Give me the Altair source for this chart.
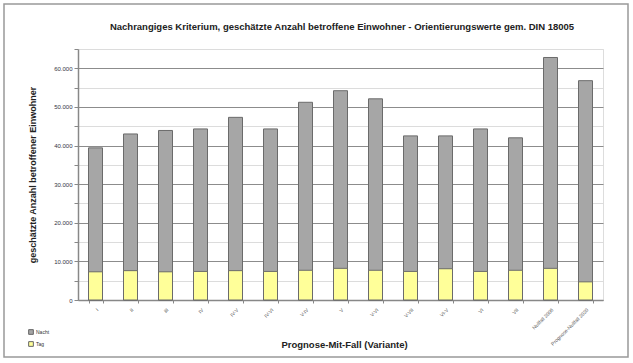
import altair as alt
import pandas as pd

varianten = ["I", "II", "III", "IV", "IV-V", "IV-VI", "V-IV", "V", "V-VI",
             "V-VII", "VI-V", "VI", "VII", "Nullfall 2006", "Prognose-Nullfall 2020"]
nacht = [39400, 43000, 43900, 44300, 47300, 44300, 51200, 54200, 52100,
         42500, 42500, 44300, 42000, 62800, 56800]
tag = [7300, 7600, 7300, 7400, 7600, 7400, 7700, 8200, 7700,
       7400, 8100, 7400, 7700, 8200, 4700]
serien = ["Nacht", "Tag"]
farben = ["#a6a6a6", "#ffff99"]
y_ticks = list(range(0, 65001, 5000))
titel = "Nachrangiges Kriterium, geschätzte Anzahl betroffene Einwohner - Orientierungswerte gem. DIN 18005"

rows = []
for v, n in zip(varianten, nacht):
    rows.append({"Variante": v, "Serie": "Nacht", "Wert": n})
for v, t in zip(varianten, tag):
    rows.append({"Variante": v, "Serie": "Tag", "Wert": t})
df = pd.DataFrame(rows)

FONT = "Liberation Sans"

bars = alt.Chart(df).mark_bar(stroke="#6b6b6b", strokeWidth=1).encode(
    x=alt.X("Variante:N", sort=varianten,
            scale=alt.Scale(paddingInner=0.6, paddingOuter=0.3),
            axis=alt.Axis(title="Prognose-Mit-Fall (Variante)", labelAngle=-45,
                          labelFontSize=5, labelColor="#555", labelFont=FONT,
                          labelPadding=4,
                          tickBand="extent", tickColor="#888", tickSize=3,
                          domainColor="#888", domainWidth=1.5,
                          titleFont=FONT, titleFontSize=9.5, titleFontWeight="bold",
                          titleColor="#222", titleY=39, titleX=266)),
    y=alt.Y("Wert:Q", stack=None,
            scale=alt.Scale(domain=[0, 65000], nice=False),
            axis=alt.Axis(title="geschätzte  Anzahl  betroffener  Einwohner",
                          values=y_ticks,
                          labelExpr="datum.value % 10000 === 0 ? replace(format(datum.value, ','), ',', '.') : ''",
                          labelFontSize=6, labelColor="#334", labelFont=FONT,
                          labelPadding=2,
                          tickColor="#888", tickSize=4,
                          domainColor="#888", domainWidth=1.5,
                          gridColor={"condition": {"test": "datum.value % 10000 === 0", "value": "#8c8c8c"}, "value": "#dcdcdc"},
                          gridWidth=1.2,
                          titleFont=FONT, titleFontSize=9, titleFontWeight="bold",
                          titleColor="#222", titleX=-41)),
    color=alt.Color("Serie:N", sort=serien,
                    scale=alt.Scale(domain=serien, range=farben),
                    legend=alt.Legend(title=None, orient="none", legendX=-50, legendY=280,
                                      symbolType="square", symbolSize=22,
                                      symbolStrokeColor="#666", symbolStrokeWidth=1,
                                      labelFontSize=5, labelFont=FONT, labelColor="#333",
                                      rowPadding=2, labelOffset=2)),
    order=alt.Order("Serie:N", sort="ascending"),
)

frame = alt.Chart(pd.DataFrame({"a": [0]})).mark_rect(
    fill=None, stroke="#999", strokeWidth=1.5
).encode(x=alt.value(-74), x2=alt.value(550), y=alt.value(-45), y2=alt.value(308))

title_mark = alt.Chart(pd.DataFrame({"t": [titel]})).mark_text(
    font=FONT, fontSize=9.5, fontWeight="bold", color="#222", align="center", baseline="middle"
).encode(text="t:N", x=alt.value(264), y=alt.value(-22))

chart = alt.layer(frame, bars, title_mark).properties(
    width=525, height=251,
    autosize=alt.AutoSizeParams(type="none"),
    padding={"left": 78, "top": 49, "right": 30, "bottom": 63},
).configure_view(stroke=None).configure(background="white")

chart.save("out.html", embed_options={"renderer": "svg", "actions": False})
